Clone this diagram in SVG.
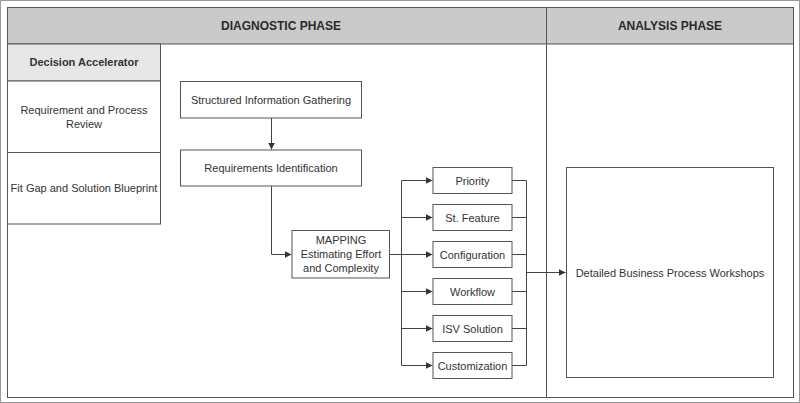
<svg xmlns="http://www.w3.org/2000/svg" width="800" height="403" viewBox="0 0 800 403">
<defs>
<pattern id="dots" width="4" height="4" patternUnits="userSpaceOnUse">
<rect width="4" height="4" fill="#c9c9c9"/>
<rect x="1" y="1" width="1" height="1" fill="#d6d6d6"/>
</pattern>
<pattern id="dots2" width="4" height="4" patternUnits="userSpaceOnUse">
<rect width="4" height="4" fill="#e6e6e6"/>
<rect x="1" y="1" width="1" height="1" fill="#f2f2f2"/>
</pattern>
<marker id="arr" markerWidth="8" markerHeight="8" refX="7" refY="4" orient="auto" markerUnits="userSpaceOnUse">
<path d="M0,0.5 L7,4 L0,7.5 Z" fill="#333"/>
</marker>
</defs>
<style>
text{font-family:"Liberation Sans",Arial,sans-serif;font-size:11px;fill:#333;text-anchor:middle;dominant-baseline:central}
.h{font-weight:bold;font-size:12px;fill:#2a2a2a}
.b{font-weight:bold}
.box{fill:#fff;stroke:#555;stroke-width:1}
.ln{fill:none;stroke:#444;stroke-width:1}
</style>
<rect x="0.5" y="0.5" width="799" height="402" fill="#fff" stroke="#999" stroke-width="1"/>
<g id="frame">
<rect x="7.5" y="7.5" width="786" height="390" fill="#fff" stroke="#555"/>
<rect x="7.5" y="7.5" width="539" height="36.5" fill="url(#dots)" stroke="#555"/>
<rect x="546.5" y="7.5" width="247" height="36.5" fill="url(#dots)" stroke="#555"/>
<line x1="546.5" y1="44" x2="546.5" y2="397.5" stroke="#555"/>
<text class="h" x="281" y="26">DIAGNOSTIC PHASE</text>
<text class="h" x="670" y="26">ANALYSIS PHASE</text>
</g>
<g id="decision-accelerator">
<rect x="7.5" y="44" width="153" height="37" fill="url(#dots2)" stroke="#555"/>
<text class="b" x="84" y="62">Decision Accelerator</text>
</g>
<g id="req-process-review">
<rect x="7.5" y="81" width="153" height="71.5" fill="#fff" stroke="#555"/>
<text x="84" y="110">Requirement and Process</text>
<text x="84" y="124">Review</text>
</g>
<g id="fit-gap">
<rect x="7.5" y="152.5" width="153" height="71.5" fill="#fff" stroke="#555"/>
<text x="84" y="188">Fit Gap and Solution Blueprint</text>
</g>
<g id="connectors">
<line class="ln" x1="271.5" y1="118" x2="271.5" y2="149.5" marker-end="url(#arr)"/>
<polyline class="ln" points="271.5,186 271.5,254.5 291.5,254.5" marker-end="url(#arr)"/>
<line class="ln" x1="389.5" y1="254.5" x2="401.5" y2="254.5"/>
<line class="ln" x1="401.5" y1="180.5" x2="401.5" y2="365.5"/>
<line class="ln" x1="401.5" y1="180.5" x2="432.5" y2="180.5" marker-end="url(#arr)"/>
<line class="ln" x1="401.5" y1="217.5" x2="432.5" y2="217.5" marker-end="url(#arr)"/>
<line class="ln" x1="401.5" y1="254.5" x2="432.5" y2="254.5" marker-end="url(#arr)"/>
<line class="ln" x1="401.5" y1="291.5" x2="432.5" y2="291.5" marker-end="url(#arr)"/>
<line class="ln" x1="401.5" y1="328.5" x2="432.5" y2="328.5" marker-end="url(#arr)"/>
<line class="ln" x1="401.5" y1="365.5" x2="432.5" y2="365.5" marker-end="url(#arr)"/>
<line class="ln" x1="512" y1="180.5" x2="526.5" y2="180.5"/>
<line class="ln" x1="512" y1="217.5" x2="526.5" y2="217.5"/>
<line class="ln" x1="512" y1="254.5" x2="526.5" y2="254.5"/>
<line class="ln" x1="512" y1="291.5" x2="526.5" y2="291.5"/>
<line class="ln" x1="512" y1="328.5" x2="526.5" y2="328.5"/>
<line class="ln" x1="512" y1="365.5" x2="526.5" y2="365.5"/>
<line class="ln" x1="526.5" y1="180.5" x2="526.5" y2="365.5"/>
<line class="ln" x1="526.5" y1="272.5" x2="565.5" y2="272.5" marker-end="url(#arr)"/>
</g>
<g id="structured-info">
<rect class="box" x="180.5" y="81.5" width="181" height="36.5"/>
<text x="271" y="99.5">Structured Information Gathering</text>
</g>
<g id="req-ident">
<rect class="box" x="180.5" y="150" width="181" height="36"/>
<text x="271" y="168">Requirements Identification</text>
</g>
<g id="mapping">
<rect class="box" x="292" y="230.5" width="97.5" height="47.5"/>
<text x="341" y="240">MAPPING</text>
<text x="341" y="254">Estimating Effort</text>
<text x="341" y="268">and Complexity</text>
</g>
<g id="priority">
<rect class="box" x="433" y="167.5" width="79" height="26"/>
<text x="472.5" y="180.5">Priority</text>
</g>
<g id="st-feature">
<rect class="box" x="433" y="204.5" width="79" height="26"/>
<text x="472.5" y="217.5">St. Feature</text>
</g>
<g id="configuration">
<rect class="box" x="433" y="241.5" width="79" height="26"/>
<text x="472.5" y="254.5">Configuration</text>
</g>
<g id="workflow">
<rect class="box" x="433" y="278.5" width="79" height="26"/>
<text x="472.5" y="291.5">Workflow</text>
</g>
<g id="isv-solution">
<rect class="box" x="433" y="315.5" width="79" height="26"/>
<text x="472.5" y="328.5">ISV Solution</text>
</g>
<g id="customization">
<rect class="box" x="433" y="352.5" width="79" height="26"/>
<text x="472.5" y="365.5">Customization</text>
</g>
<g id="detailed-workshops">
<rect class="box" x="566.5" y="167.5" width="207" height="210"/>
<text x="670" y="272.5">Detailed Business Process Workshops</text>
</g>
</svg>
